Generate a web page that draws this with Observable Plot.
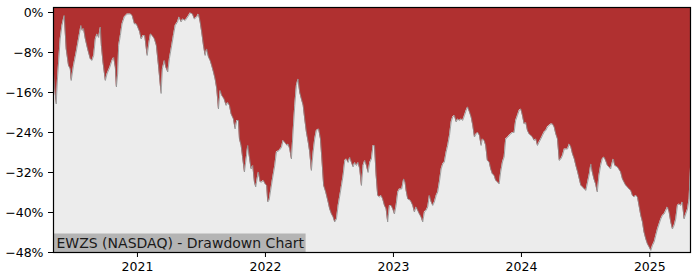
<!DOCTYPE html>
<html>
<head>
<meta charset="utf-8">
<script src="https://cdn.jsdelivr.net/npm/d3@7"></script>
<script src="https://cdn.jsdelivr.net/npm/@observablehq/plot@0.6"></script>
<style>
  html, body { margin: 0; padding: 0; background: #ffffff; }
  #chart { width: 700px; height: 280px; }
  svg { font-family: "DejaVu Sans", sans-serif; }
</style>
</head>
<body>
<div id="chart"></div>
<script>
// Decimal year of each observation
const years = [
2020.346,2020.367,2020.377,2020.398,2020.412,2020.430,2020.445,2020.463,2020.477,2020.484,
2020.502,2020.523,2020.541,2020.560,2020.570,2020.580,2020.594,2020.612,2020.633,2020.646,
2020.659,2020.672,2020.685,2020.698,2020.711,2020.719,2020.732,2020.750,2020.763,2020.784,
2020.802,2020.815,2020.828,2020.836,2020.846,2020.854,2020.867,2020.880,2020.898,2020.920,
2020.945,2020.959,2020.977,2020.992,2021.002,2021.018,2021.029,2021.045,2021.057,2021.076,
2021.091,2021.102,2021.115,2021.133,2021.148,2021.166,2021.185,2021.195,2021.211,2021.221,
2021.237,2021.250,2021.268,2021.281,2021.295,2021.313,2021.326,2021.341,2021.354,2021.373,
2021.393,2021.412,2021.430,2021.445,2021.463,2021.477,2021.490,2021.502,2021.516,2021.529,
2021.541,2021.555,2021.568,2021.580,2021.594,2021.607,2021.620,2021.633,2021.646,2021.659,
2021.677,2021.693,2021.705,2021.719,2021.732,2021.750,2021.763,2021.776,2021.789,2021.797,
2021.810,2021.820,2021.836,2021.846,2021.862,2021.873,2021.888,2021.901,2021.914,2021.924,
2021.935,2021.945,2021.959,2021.971,2021.984,2021.998,2022.010,2022.018,2022.029,2022.039,
2022.055,2022.073,2022.086,2022.107,2022.125,2022.138,2022.151,2022.170,2022.177,2022.190,
2022.203,2022.216,2022.229,2022.242,2022.255,2022.268,2022.281,2022.295,2022.307,2022.320,
2022.334,2022.346,2022.359,2022.373,2022.385,2022.398,2022.416,2022.430,2022.440,2022.455,
2022.471,2022.490,2022.502,2022.516,2022.529,2022.541,2022.555,2022.568,2022.586,2022.607,
2022.620,2022.633,2022.646,2022.659,2022.672,2022.685,2022.698,2022.711,2022.724,2022.737,
2022.750,2022.763,2022.776,2022.789,2022.802,2022.815,2022.828,2022.841,2022.852,2022.865,
2022.877,2022.891,2022.904,2022.916,2022.930,2022.943,2022.955,2022.969,2022.982,2022.995,
2023.008,2023.021,2023.034,2023.047,2023.065,2023.080,2023.091,2023.099,2023.112,2023.133,
2023.151,2023.164,2023.177,2023.190,2023.203,2023.216,2023.229,2023.242,2023.255,2023.268,
2023.281,2023.295,2023.307,2023.320,2023.334,2023.346,2023.359,2023.373,2023.385,2023.398,
2023.412,2023.424,2023.438,2023.451,2023.463,2023.477,2023.490,2023.502,2023.516,2023.529,
2023.541,2023.555,2023.568,2023.580,2023.594,2023.607,2023.620,2023.633,2023.646,2023.659,
2023.672,2023.685,2023.695,2023.709,2023.721,2023.734,2023.748,2023.760,2023.773,2023.787,
2023.799,2023.813,2023.826,2023.838,2023.852,2023.865,2023.877,2023.891,2023.904,2023.916,
2023.930,2023.943,2023.955,2023.969,2023.982,2023.995,2024.008,2024.021,2024.034,2024.047,
2024.060,2024.073,2024.086,2024.099,2024.112,2024.125,2024.138,2024.151,2024.164,2024.177,
2024.190,2024.203,2024.216,2024.229,2024.242,2024.255,2024.268,2024.281,2024.295,2024.307,
2024.320,2024.334,2024.346,2024.359,2024.373,2024.385,2024.398,2024.412,2024.424,2024.438,
2024.451,2024.463,2024.477,2024.490,2024.502,2024.516,2024.529,2024.541,2024.552,2024.565,
2024.578,2024.591,2024.604,2024.617,2024.630,2024.643,2024.656,2024.670,2024.682,2024.695,
2024.709,2024.716,2024.727,2024.748,2024.773,2024.787,2024.799,2024.813,2024.826,2024.838,
2024.852,2024.865,2024.877,2024.891,2024.904,2024.916,2024.930,2024.943,2024.955,2024.969,
2024.982,2024.995,2025.008,2025.021,2025.034,2025.047,2025.060,2025.073,2025.086,2025.099,
2025.112,2025.125,2025.138,2025.151,2025.164,2025.177,2025.190,2025.203,2025.216,2025.229,
2025.242,2025.255,2025.268,2025.281,2025.295,2025.307,2025.318
];

// Drawdown from running peak, in percent
const drawdown = [
-12.2,-18.3,-13.3,-5.3,-2.6,-0.6,-7.3,-10.6,-11.3,-13.6,
-10.6,-7.9,-5.3,-2.6,-3.6,-3.2,-5.3,-7.3,-9.3,-9.6,
-8.6,-5.3,-4.3,-5.0,-2.9,-6.6,-10.0,-13.6,-12.3,-11.0,
-9.6,-9.0,-11.0,-14.9,-12.3,-6.6,-4.6,-2.3,-0.9,-0.3,
-0.3,-0.6,-2.3,-2.3,-2.9,-3.9,-5.3,-4.6,-4.6,-8.6,
-5.9,-4.3,-4.6,-5.3,-6.6,-11.0,-16.2,-11.3,-9.6,-10.9,
-11.9,-9.2,-6.6,-4.6,-2.6,-1.9,-0.9,-1.9,-1.3,-1.6,
-0.9,-0.1,-0.3,-1.3,-0.9,-0.3,-1.9,-3.9,-6.6,-8.6,
-7.3,-8.9,-9.6,-10.6,-11.9,-13.3,-15.3,-19.3,-15.6,-16.6,
-17.3,-18.6,-18.0,-18.6,-20.3,-21.3,-23.3,-21.6,-21.6,-25.3,
-26.6,-28.6,-31.9,-29.9,-26.6,-28.6,-31.3,-30.6,-33.9,-34.9,
-33.3,-31.9,-33.9,-33.9,-33.6,-34.3,-34.6,-37.9,-37.5,-35.9,
-33.3,-30.6,-27.9,-27.6,-27.0,-25.6,-26.0,-26.6,-26.3,-27.3,
-29.3,-23.9,-18.6,-14.6,-13.3,-16.0,-17.3,-18.6,-21.3,-23.9,
-25.9,-27.9,-31.6,-27.9,-25.3,-23.6,-23.3,-25.3,-28.9,-34.6,
-35.9,-37.9,-39.3,-40.3,-40.9,-41.9,-41.3,-38.6,-35.9,-32.6,
-29.6,-29.3,-30.0,-29.0,-30.0,-30.9,-30.0,-30.6,-30.0,-31.3,
-34.6,-30.6,-29.6,-30.6,-32.0,-30.0,-29.3,-26.6,-26.6,-32.6,
-36.6,-36.9,-36.6,-37.3,-38.6,-39.3,-41.9,-38.6,-38.6,-39.3,
-40.3,-38.6,-35.9,-35.3,-35.3,-33.3,-34.0,-35.6,-37.3,-37.6,
-38.6,-39.9,-38.9,-39.6,-40.3,-40.9,-41.9,-39.9,-39.6,-38.9,
-36.6,-37.9,-38.6,-37.9,-36.6,-35.9,-33.9,-31.3,-30.3,-29.9,
-27.9,-26.6,-24.6,-21.9,-20.9,-20.6,-21.9,-21.3,-21.6,-21.3,
-21.6,-20.6,-19.6,-18.9,-19.9,-20.9,-22.6,-24.9,-24.3,-24.0,
-24.6,-26.6,-25.3,-25.6,-26.6,-29.6,-29.9,-31.3,-32.3,-32.6,
-33.6,-33.9,-34.3,-31.9,-29.9,-28.9,-25.3,-25.0,-24.6,-24.3,
-24.0,-24.0,-21.6,-20.6,-19.6,-19.3,-20.6,-22.3,-22.0,-23.6,
-24.3,-24.6,-24.9,-25.6,-25.3,-26.6,-25.9,-25.3,-24.6,-23.9,
-23.6,-22.9,-22.6,-22.3,-22.3,-22.9,-24.3,-25.3,-29.6,-29.3,
-28.6,-27.3,-27.3,-27.3,-26.3,-26.9,-28.3,-29.3,-30.6,-31.9,
-33.3,-34.6,-34.9,-35.3,-35.6,-33.9,-32.3,-30.3,-31.9,-33.3,
-34.3,-35.9,-32.6,-30.6,-29.3,-28.9,-29.6,-30.6,-30.9,-31.3,
-29.9,-29.3,-30.6,-30.9,-31.9,-33.3,-33.9,-34.6,-34.9,-35.3,
-35.6,-36.6,-36.9,-36.6,-36.9,-38.6,-40.6,-41.9,-43.9,-45.3,
-46.3,-46.9,-47.6,-46.6,-45.9,-44.6,-43.3,-42.3,-41.3,-40.6,
-40.3,-39.6,-38.9,-39.9,-41.9,-43.3,-42.6,-41.3,-38.6,-38.3,
-38.6,-37.9,-41.3,-40.3,-39.3,-37.3,-31.0
];

const yTicks = [0, -8, -16, -24, -32, -40, -48];
const yLimits = [-48, 1];
const xTickYears = [2021, 2022, 2023, 2024, 2025];
const title = "EWZS (NASDAQ) - Drawdown Chart";

function yearToDate(v) {
  const y = Math.floor(v);
  const a = Date.UTC(y, 0, 1), b = Date.UTC(y + 1, 0, 1);
  return new Date(a + (v - y) * (b - a));
}

const data = years.map((v, i) => ({ date: yearToDate(v), dd: drawdown[i] }));
const bottom = yLimits[0];
const xTicks = xTickYears.map(y => new Date(Date.UTC(y, 0, 1)));

const chart = Plot.plot({
  width: 700,
  height: 280,
  marginLeft: 53,
  marginRight: 10,
  marginTop: 7,
  marginBottom: 28,
  style: { fontFamily: "DejaVu Sans, sans-serif", fontSize: "12.5px", color: "#000", background: "#fff" },
  x: { type: "utc", domain: [data[0].date, data[data.length - 1].date] },
  y: { domain: yLimits },
  marks: [
    Plot.frame({ fill: "#b03030", stroke: "none" }),
    Plot.areaY(data, { x: "date", y1: () => bottom, y2: "dd", fill: "#ececec", curve: "linear" }),
    Plot.line(data, { x: "date", y: "dd", stroke: "#8f8f8f", strokeWidth: 0.8, curve: "linear" }),
    Plot.axisY({ ticks: yTicks, tickSize: 5, tickPadding: 5, tickFormat: d => (d < 0 ? "\u2212" + Math.abs(d) : d) + "%", label: null, stroke: "#000", fontSize: 12.5 }),
    Plot.axisX({ ticks: xTicks, tickSize: 5, tickPadding: 5, tickFormat: d3.utcFormat("%Y"), label: null, fontSize: 12.5 }),
    Plot.text([title], { frameAnchor: "bottom-left", dx: 3, dy: -5, text: d => d, textAnchor: "start", fontSize: 14, fill: "#1a1a1a", className: "ttl" }),
    Plot.frame({ stroke: "#000", strokeWidth: 1.2 })
  ]
});

document.getElementById("chart").appendChild(chart);

// Gray label box behind the title
const tg = chart.querySelector("g.ttl");
const t = tg && tg.querySelector("text");
if (t) {
  const sr = chart.getBoundingClientRect();
  const tr = t.getBoundingClientRect();
  const x0 = 53.5;
  const top = tr.top - sr.top - 1;
  const right = tr.right - sr.left + 1;
  const rect = document.createElementNS("http://www.w3.org/2000/svg", "rect");
  rect.setAttribute("x", x0);
  rect.setAttribute("y", top);
  rect.setAttribute("width", right - x0);
  rect.setAttribute("height", 252 - top);
  rect.setAttribute("fill", "#b4b4b4");
  chart.insertBefore(rect, tg);
}
</script>
</body>
</html>
